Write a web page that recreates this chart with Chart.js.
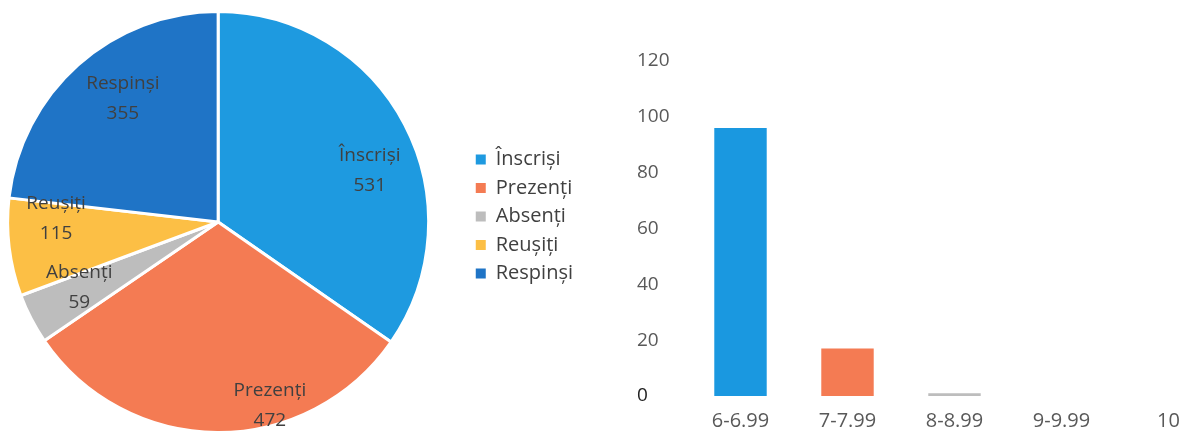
<!DOCTYPE html>
<html>
<head>
<meta charset="utf-8">
<script src="https://cdn.jsdelivr.net/npm/chart.js@4.4.1/dist/chart.umd.min.js"></script>
<style>
  html, body { margin: 0; padding: 0; background: #fff; }
  body { width: 1182px; height: 434px; overflow: hidden; position: relative; }
  #pieChart { position: absolute; left: -31px; top: 0; }
  #barChart { position: absolute; left: 600px; top: 0; }
</style>
</head>
<body>
<canvas id="pieChart" width="614" height="434"></canvas>
<canvas id="barChart" width="640" height="434"></canvas>
<script>
// pie data
const categories = ['Înscriși', 'Prezenți', 'Absenți', 'Reușiți', 'Respinși'];
const counts = [531, 472, 59, 115, 355];
const pieColors = ['#1e9ae0', '#f47b53', '#bdbdbd', '#fcbf45', '#1f74c6'];

// bar data
const gradeLabels = ['6-6.99', '7-7.99', '8-8.99', '9-9.99', '10'];
const gradeCounts = [96, 17, 1, 0, 0];
const barColors = ['#1a98e0', '#f47b53', '#bdbdbd', '#fcbf45', '#1f74c6'];

const textColor = '#404040';
const tickColor = '#595959';

// labels inside the slices (name + value)
const pieLabels = {
  id: 'pieLabels',
  afterDatasetsDraw(chart, args, opts) {
    const meta = chart.getDatasetMeta(0);
    const c = chart.ctx;
    c.save();
    c.font = '19px "Open Sans"';
    c.fillStyle = textColor;
    c.textAlign = 'center';
    c.textBaseline = 'middle';
    meta.data.forEach((arc, i) => {
      const mid = (arc.startAngle + arc.endAngle) / 2 + opts.shift[i] * Math.PI / 180;
      const r = arc.outerRadius * opts.dist[i];
      const x = arc.x + Math.cos(mid) * r;
      const y = arc.y + Math.sin(mid) * r;
      c.fillText(categories[i], x, y - 15);
      c.fillText(String(counts[i]), x, y + 15);
    });
    c.restore();
  }
};

new Chart(document.getElementById('pieChart'), {
  type: 'pie',
  data: {
    labels: categories,
    datasets: [{
      data: counts,
      backgroundColor: pieColors,
      borderColor: '#ffffff',
      borderWidth: 3
    }]
  },
  options: {
    responsive: false,
    animation: false,
    layout: { padding: { top: 10, bottom: 0, left: 0, right: 0 } },
    plugins: {
      tooltip: { enabled: false },
      legend: {
        position: 'right',
        align: 'start',
        // empty title only used to push the items down
        title: { display: true, text: ' ', font: { size: 10 }, padding: 59.5 },
        labels: {
          boxWidth: 10,
          boxHeight: 10,
          padding: 8.5,
          color: textColor,
          font: { family: 'Open Sans', size: 20 },
          generateLabels(chart) {
            return Chart.overrides.pie.plugins.legend.labels.generateLabels(chart)
              .map(item => ({ ...item, lineWidth: 0 }));
          }
        }
      },
      pieLabels: {
        shift: [9, -16, 2, 8, 4],
        dist: [0.76, 0.905, 0.73, 0.77, 0.74]
      }
    }
  },
  plugins: [pieLabels]
});

new Chart(document.getElementById('barChart'), {
  type: 'bar',
  data: {
    labels: gradeLabels,
    datasets: [{
      data: gradeCounts,
      backgroundColor: barColors,
      barPercentage: 0.49,
      categoryPercentage: 1
    }]
  },
  options: {
    responsive: false,
    animation: false,
    layout: { padding: { top: 61, bottom: 4, left: 37, right: 18 } },
    plugins: {
      legend: { display: false },
      tooltip: { enabled: false }
    },
    scales: {
      y: {
        min: 0,
        max: 120,
        grid: { display: false },
        border: { display: false },
        afterFit: scale => { scale.width = 50; },
        ticks: {
          stepSize: 20,
          crossAlign: 'far',
          color: ctx => ctx.tick.value === 0 ? '#222' : tickColor,
          font: { family: 'Open Sans', size: 19 }
        }
      },
      x: {
        grid: { display: false, drawTicks: false },
        border: { display: false },
        afterFit: scale => { scale.height = 34; },
        ticks: {
          padding: 13,
          color: tickColor,
          font: { family: 'Open Sans', size: 20 }
        }
      }
    }
  }
});
</script>
</body>
</html>
